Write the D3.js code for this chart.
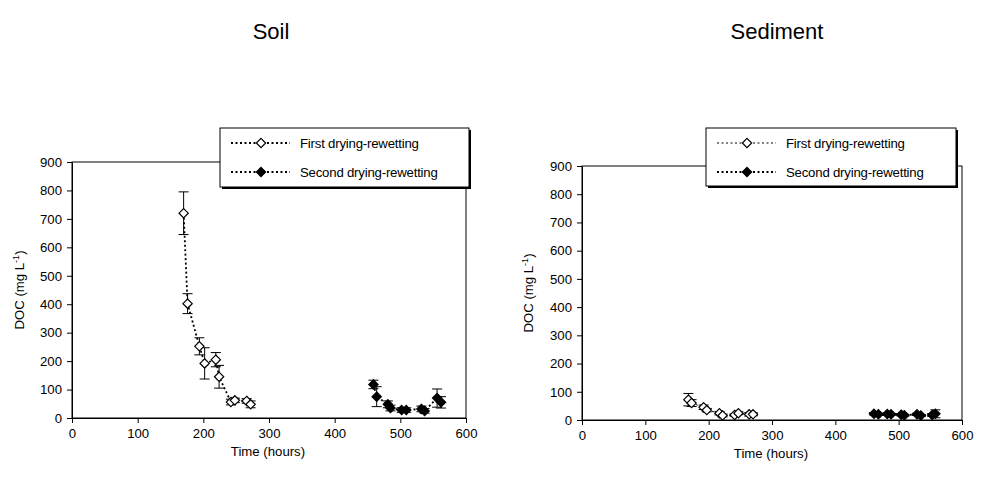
<!DOCTYPE html>
<html>
<head>
<meta charset="utf-8">
<script src="https://cdn.jsdelivr.net/npm/d3@7"></script>
<style>
  body { margin: 0; background: #fff; }
  svg { display: block; font-family: "Liberation Sans", Arial, sans-serif; }
</style>
</head>
<body>
<svg id="chart" width="982" height="485"></svg>
<script>
// Soil: first drying-rewetting (open diamonds)
const soilFirstTime = [170, 176, 194, 202, 219, 224, 242, 248, 266, 272];
const soilFirstDOC  = [720, 402, 252, 192, 205, 145, 56, 62, 60, 48];
const soilFirstErr  = [75, 35, 30, 55, 25, 40, 10, 8, 8, 12];
// Soil: second drying-rewetting (filled diamonds)
const soilSecondTime = [459, 464, 481, 485, 502, 509, 532, 537, 556, 562];
const soilSecondDOC  = [118, 75, 48, 35, 28, 28, 32, 25, 70, 55];
const soilSecondErr  = [15, 35, 12, 10, 8, 8, 10, 8, 32, 20];
// Sediment: first drying-rewetting
const sedFirstTime = [168, 173, 192, 197, 217, 222, 241, 247, 264, 270];
const sedFirstDOC  = [72, 60, 45, 35, 24, 16, 18, 24, 20, 20];
const sedFirstErr  = [22, 12, 8, 6, 6, 5, 4, 5, 6, 5];
// Sediment: second drying-rewetting
const sedSecondTime = [461, 468, 482, 488, 504, 509, 529, 535, 553, 558];
const sedSecondDOC  = [22, 20, 21, 20, 19, 17, 20, 16, 18, 22];
const sedSecondErr  = [4, 3, 4, 3, 4, 3, 4, 3, 5, 14];

const xTicks = [0, 100, 200, 300, 400, 500, 600];
const yTicks = [0, 100, 200, 300, 400, 500, 600, 700, 800, 900];
const legendLabels = ["First drying-rewetting", "Second drying-rewetting"];

const svg = d3.select("#chart");
const FS = 13.2;

const panels = [
  { title: "Soil", titleX: 271, left: 72, right: 466, top: 162, bottom: 418,
    yLabelX: 24, legend: { x: 220, y: 128, w: 249, h: 59 },
    series: [
      { t: soilFirstTime, v: soilFirstDOC, e: soilFirstErr, fill: "#fff", dash: "2,2.5", lw: 1.8 },
      { t: soilSecondTime, v: soilSecondDOC, e: soilSecondErr, fill: "#000", dash: "2,2.5", lw: 1.8 }
    ] },
  { title: "Sediment", titleX: 777, left: 582, right: 962, top: 166, bottom: 420,
    yLabelX: 533, legend: { x: 706, y: 128, w: 250, h: 58 },
    series: [
      { t: sedFirstTime, v: sedFirstDOC, e: sedFirstErr, fill: "#fff", dash: "2,2.5", lw: 1 },
      { t: sedSecondTime, v: sedSecondDOC, e: sedSecondErr, fill: "#000", dash: "2,2.5", lw: 1.8 }
    ] }
];

const diamond = d3.symbol().type(d3.symbolDiamond2).size(55);

panels.forEach(p => {
  const x = d3.scaleLinear().domain([0, 600]).range([p.left, p.right]);
  const y = d3.scaleLinear().domain([0, 900]).range([p.bottom, p.top]);
  const g = svg.append("g");

  // title
  g.append("text").attr("x", p.titleX).attr("y", 39)
    .attr("text-anchor", "middle").attr("font-size", 22).text(p.title);

  // plot frame
  g.append("rect").attr("x", p.left).attr("y", p.top)
    .attr("width", p.right - p.left).attr("height", p.bottom - p.top)
    .attr("fill", "none").attr("stroke", "#000").attr("stroke-width", 1);

  // axes
  const xAxis = g.append("g").attr("transform", `translate(0,${p.bottom})`)
    .call(d3.axisBottom(x).tickValues(xTicks).tickSize(5).tickPadding(6).tickSizeOuter(0));
  const yAxis = g.append("g").attr("transform", `translate(${p.left},0)`)
    .call(d3.axisLeft(y).tickValues(yTicks).tickSize(5).tickPadding(5).tickSizeOuter(0));
  [xAxis, yAxis].forEach(a => {
    a.selectAll("text").attr("font-size", FS).attr("fill", "#000")
      .attr("font-family", "Liberation Sans, Arial, sans-serif");
    a.selectAll("line,path").attr("stroke", "#000");
  });

  // axis titles
  g.append("text").attr("x", (p.left + p.right) / 2 - 1).attr("y", p.bottom + 38)
    .attr("text-anchor", "middle").attr("font-size", FS).text("Time (hours)");
  const yl = g.append("text")
    .attr("transform", `translate(${p.yLabelX},${(p.top + p.bottom) / 2}) rotate(-90)`)
    .attr("text-anchor", "middle").attr("font-size", FS);
  yl.append("tspan").text("DOC (mg L");
  yl.append("tspan").attr("font-size", 9).attr("dy", -5).text("-1");
  yl.append("tspan").attr("dy", 5).text(")");

  // series
  p.series.forEach(s => {
    const pts = s.t.map((t, i) => ({ t, v: s.v[i], e: s.e[i] }));
    g.append("path").datum(pts)
      .attr("d", d3.line().x(d => x(d.t)).y(d => y(d.v)))
      .attr("fill", "none").attr("stroke", "#000")
      .attr("stroke-width", s.lw).attr("stroke-dasharray", s.dash);
    const eb = g.append("g").selectAll("g").data(pts).join("g");
    eb.append("line")
      .attr("x1", d => x(d.t)).attr("x2", d => x(d.t))
      .attr("y1", d => y(d.v + d.e)).attr("y2", d => y(Math.max(0, d.v - d.e)))
      .attr("stroke", "#000");
    [1, -1].forEach(sg => {
      eb.append("line")
        .attr("x1", d => x(d.t) - 5).attr("x2", d => x(d.t) + 5)
        .attr("y1", d => y(Math.max(0, d.v + sg * d.e)))
        .attr("y2", d => y(Math.max(0, d.v + sg * d.e)))
        .attr("stroke", "#000");
    });
    g.append("g").selectAll("path").data(pts).join("path")
      .attr("d", diamond)
      .attr("transform", d => `translate(${x(d.t)},${y(d.v)})`)
      .attr("fill", s.fill).attr("stroke", "#000").attr("stroke-width", 1.2);
  });

  // legend with drop shadow
  const L = p.legend;
  g.append("rect").attr("x", L.x + 2).attr("y", L.y + 2).attr("width", L.w).attr("height", L.h)
    .attr("fill", "#000");
  g.append("rect").attr("x", L.x).attr("y", L.y).attr("width", L.w).attr("height", L.h)
    .attr("fill", "#fff").attr("stroke", "#000").attr("stroke-width", 1);
  legendLabels.forEach((lab, i) => {
    const s = p.series[i];
    const ly = L.y + 15 + i * 29;
    g.append("line").attr("x1", L.x + 11).attr("x2", L.x + 70)
      .attr("y1", ly).attr("y2", ly)
      .attr("stroke", "#000").attr("stroke-width", s.lw).attr("stroke-dasharray", s.dash);
    g.append("path").attr("d", diamond)
      .attr("transform", `translate(${L.x + 41},${ly})`)
      .attr("fill", s.fill).attr("stroke", "#000").attr("stroke-width", 1.2);
    g.append("text").attr("x", L.x + 80).attr("y", ly + 5)
      .attr("font-size", FS).attr("letter-spacing", -0.2).text(lab);
  });
});
</script>
</body>
</html>
